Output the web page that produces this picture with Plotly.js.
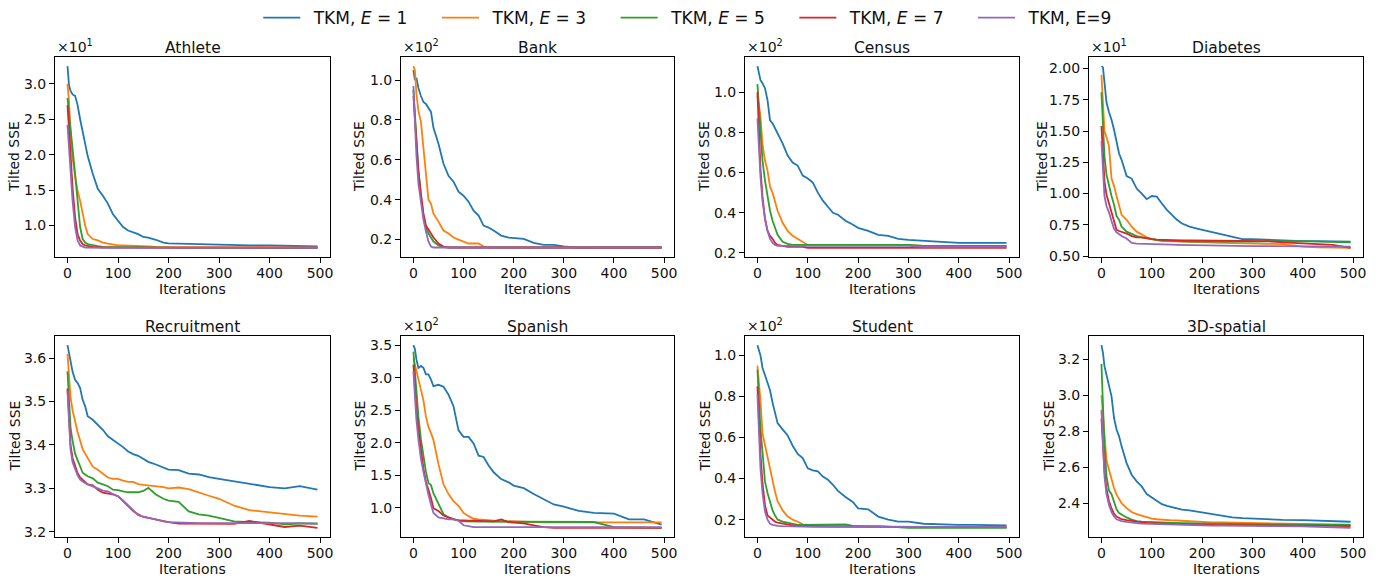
<!DOCTYPE html>
<html>
<head>
<meta charset="utf-8">
<script src="https://cdn.plot.ly/plotly-3.0.1.min.js"></script>
<style>html,body{margin:0;padding:0;background:#fff;}#chart{width:1382px;height:577px;}</style>
</head>
<body>
<div id="chart"></div>
<script>
// Iteration indices at which values were read
const ITER = [0,3,6,10,15,20,25,30,35,40,50,60,70,80,90,100,110,120,130,140,150,160,175,190,200,220,240,260,280,300,330,360,400,430,460,495];

const SERIES_NAMES = ['TKM, <i>E</i> = 1','TKM, <i>E</i> = 3','TKM, <i>E</i> = 5','TKM, <i>E</i> = 7','TKM, E=9'];
const COLORS = ['#1f77b4','#ff7f0e','#2ca02c','#d62728','#9467bd'];

const DATASETS = ['Athlete','Bank','Census','Diabetes','Recruitment','Spanish','Student','3D-spatial'];
const SCALE_EXP = [1,2,2,1,null,2,2,null];
const X_LABEL = 'Iterations';
const Y_LABEL = 'Tilted SSE';

// values in displayed units (multiplied by 10^SCALE_EXP); rows: E=1,3,5,7,9
const athlete = [
 [3.25,2.98,2.90,2.85,2.83,2.70,2.50,2.32,2.12,1.98,1.73,1.52,1.42,1.31,1.16,1.07,0.98,0.93,0.91,0.88,0.84,0.83,0.80,0.76,0.75,0.745,0.74,0.74,0.735,0.73,0.725,0.72,0.72,0.715,0.71,0.705],
 [3.00,2.75,2.30,1.95,1.70,1.49,1.35,1.16,1.00,0.88,0.81,0.79,0.76,0.745,0.73,0.72,0.72,0.715,0.715,0.71,0.71,0.705,0.70,0.70,0.70,0.70,0.695,0.695,0.695,0.695,0.69,0.69,0.69,0.69,0.69,0.69],
 [2.80,2.60,2.40,2.15,1.73,1.35,0.98,0.81,0.76,0.74,0.72,0.71,0.70,0.70,0.695,0.695,0.69,0.69,0.69,0.69,0.69,0.69,0.69,0.69,0.69,0.685,0.685,0.685,0.685,0.685,0.685,0.685,0.685,0.685,0.685,0.685],
 [2.70,2.30,1.90,1.54,1.12,0.88,0.79,0.74,0.72,0.71,0.70,0.695,0.69,0.69,0.69,0.69,0.69,0.69,0.69,0.69,0.69,0.69,0.69,0.69,0.69,0.69,0.69,0.69,0.69,0.69,0.69,0.69,0.69,0.69,0.69,0.69],
 [2.42,2.10,1.70,1.35,0.98,0.79,0.72,0.70,0.69,0.69,0.685,0.685,0.685,0.685,0.685,0.685,0.685,0.685,0.685,0.685,0.685,0.685,0.685,0.685,0.685,0.685,0.685,0.685,0.685,0.685,0.685,0.685,0.685,0.685,0.685,0.69]
];
const bank = [
 [1.05,1.00,1.01,0.96,0.92,0.89,0.88,0.86,0.84,0.76,0.68,0.58,0.52,0.49,0.44,0.42,0.39,0.345,0.32,0.27,0.26,0.245,0.22,0.21,0.208,0.203,0.183,0.173,0.173,0.165,0.158,0.16,0.16,0.16,0.16,0.16],
 [1.07,1.05,0.93,0.845,0.79,0.66,0.51,0.40,0.38,0.33,0.29,0.245,0.23,0.21,0.20,0.19,0.18,0.18,0.18,0.165,0.16,0.16,0.16,0.16,0.16,0.16,0.16,0.16,0.16,0.16,0.16,0.16,0.16,0.16,0.16,0.16],
 [0.95,0.82,0.68,0.55,0.42,0.32,0.26,0.23,0.21,0.19,0.17,0.162,0.16,0.16,0.16,0.16,0.16,0.16,0.16,0.16,0.16,0.16,0.16,0.16,0.16,0.16,0.16,0.16,0.16,0.16,0.16,0.16,0.16,0.16,0.16,0.16],
 [0.92,0.80,0.66,0.54,0.43,0.33,0.27,0.25,0.23,0.21,0.18,0.165,0.16,0.16,0.16,0.16,0.16,0.16,0.16,0.16,0.16,0.16,0.16,0.16,0.16,0.16,0.16,0.16,0.16,0.16,0.16,0.16,0.16,0.16,0.16,0.16],
 [0.97,0.80,0.62,0.48,0.38,0.30,0.24,0.19,0.165,0.16,0.16,0.16,0.16,0.16,0.16,0.16,0.16,0.16,0.16,0.16,0.16,0.16,0.16,0.16,0.16,0.16,0.16,0.16,0.16,0.16,0.16,0.16,0.16,0.16,0.16,0.16]
];
const census = [
 [1.13,1.09,1.06,1.045,1.02,0.96,0.86,0.845,0.82,0.80,0.745,0.685,0.65,0.635,0.585,0.57,0.55,0.50,0.46,0.43,0.40,0.39,0.36,0.34,0.325,0.31,0.29,0.285,0.27,0.265,0.26,0.255,0.25,0.25,0.25,0.25],
 [0.98,0.93,0.88,0.74,0.66,0.61,0.53,0.50,0.46,0.41,0.35,0.31,0.285,0.27,0.255,0.24,0.24,0.24,0.24,0.24,0.24,0.24,0.24,0.24,0.24,0.24,0.24,0.24,0.24,0.24,0.235,0.235,0.235,0.235,0.235,0.235],
 [1.04,0.92,0.80,0.66,0.56,0.48,0.41,0.36,0.325,0.29,0.255,0.245,0.24,0.24,0.24,0.24,0.24,0.24,0.24,0.24,0.24,0.24,0.24,0.24,0.24,0.24,0.24,0.24,0.24,0.24,0.235,0.235,0.235,0.235,0.235,0.235],
 [1.00,0.80,0.62,0.48,0.37,0.31,0.285,0.27,0.25,0.24,0.235,0.23,0.23,0.23,0.23,0.225,0.225,0.225,0.225,0.225,0.225,0.225,0.225,0.225,0.225,0.225,0.225,0.225,0.225,0.225,0.225,0.225,0.225,0.225,0.225,0.225],
 [0.87,0.72,0.58,0.46,0.37,0.31,0.27,0.25,0.24,0.235,0.235,0.235,0.235,0.235,0.235,0.235,0.235,0.235,0.235,0.235,0.235,0.235,0.235,0.235,0.235,0.235,0.235,0.235,0.235,0.235,0.23,0.23,0.23,0.23,0.23,0.23]
];
const diabetes = [
 [2.02,2.01,1.89,1.73,1.65,1.59,1.51,1.41,1.32,1.27,1.14,1.12,1.04,1.00,0.955,0.98,0.975,0.92,0.87,0.83,0.79,0.76,0.735,0.72,0.71,0.69,0.67,0.655,0.635,0.635,0.63,0.63,0.62,0.62,0.615,0.615],
 [1.95,1.75,1.50,1.45,1.38,1.12,1.06,0.98,0.90,0.83,0.79,0.735,0.695,0.67,0.65,0.635,0.628,0.62,0.62,0.62,0.618,0.615,0.613,0.61,0.61,0.608,0.605,0.603,0.60,0.60,0.598,0.595,0.575,0.57,0.565,0.565],
 [1.81,1.55,1.30,1.15,1.05,0.98,0.91,0.82,0.79,0.735,0.695,0.675,0.66,0.65,0.642,0.635,0.63,0.625,0.622,0.62,0.618,0.617,0.616,0.615,0.615,0.615,0.615,0.615,0.615,0.615,0.618,0.62,0.62,0.615,0.612,0.61],
 [1.54,1.30,1.10,0.99,0.92,0.84,0.76,0.71,0.70,0.695,0.68,0.66,0.65,0.65,0.64,0.635,0.632,0.63,0.628,0.627,0.627,0.626,0.625,0.625,0.625,0.625,0.625,0.625,0.625,0.625,0.62,0.61,0.60,0.595,0.59,0.565],
 [1.42,1.15,0.98,0.90,0.85,0.78,0.72,0.69,0.675,0.66,0.64,0.605,0.60,0.598,0.596,0.595,0.594,0.593,0.592,0.591,0.59,0.589,0.588,0.587,0.585,0.584,0.583,0.582,0.581,0.58,0.58,0.58,0.58,0.578,0.576,0.575]
];
const recruitment = [
 [3.63,3.611,3.589,3.569,3.55,3.543,3.531,3.504,3.489,3.466,3.458,3.447,3.435,3.42,3.412,3.403,3.395,3.385,3.379,3.375,3.368,3.361,3.355,3.347,3.343,3.342,3.334,3.332,3.326,3.322,3.316,3.31,3.303,3.30,3.305,3.297],
 [3.61,3.55,3.51,3.48,3.451,3.43,3.41,3.39,3.38,3.37,3.35,3.343,3.335,3.325,3.322,3.322,3.318,3.315,3.315,3.31,3.308,3.307,3.305,3.303,3.30,3.302,3.298,3.29,3.283,3.276,3.26,3.25,3.245,3.24,3.237,3.235],
 [3.57,3.50,3.44,3.41,3.38,3.365,3.35,3.336,3.332,3.328,3.323,3.313,3.309,3.305,3.297,3.296,3.293,3.291,3.291,3.291,3.294,3.301,3.286,3.276,3.272,3.269,3.247,3.24,3.237,3.232,3.224,3.222,3.221,3.217,3.219,3.219],
 [3.53,3.45,3.40,3.37,3.35,3.335,3.325,3.32,3.315,3.309,3.307,3.297,3.29,3.288,3.286,3.282,3.27,3.259,3.248,3.24,3.234,3.232,3.228,3.225,3.222,3.219,3.219,3.219,3.218,3.219,3.218,3.225,3.217,3.211,3.214,3.209],
 [3.525,3.44,3.39,3.36,3.345,3.33,3.32,3.315,3.312,3.309,3.305,3.30,3.295,3.293,3.287,3.282,3.272,3.262,3.25,3.238,3.235,3.232,3.228,3.224,3.222,3.221,3.22,3.22,3.22,3.22,3.22,3.22,3.221,3.221,3.22,3.218]
];
const spanish = [
 [3.50,3.44,3.28,3.15,3.18,3.15,3.05,3.05,2.97,2.87,2.89,2.86,2.74,2.56,2.19,2.09,2.09,1.99,1.80,1.78,1.65,1.545,1.44,1.39,1.34,1.30,1.21,1.13,1.05,1.015,0.95,0.92,0.91,0.82,0.82,0.74],
 [3.30,3.20,3.10,3.00,2.85,2.65,2.40,2.24,2.15,2.04,1.67,1.36,1.21,1.10,1.03,0.92,0.87,0.83,0.82,0.81,0.80,0.80,0.795,0.79,0.79,0.785,0.78,0.775,0.775,0.775,0.775,0.775,0.775,0.775,0.775,0.775],
 [3.40,3.10,2.75,2.40,2.05,1.80,1.55,1.38,1.35,1.22,1.05,0.90,0.85,0.82,0.80,0.79,0.785,0.785,0.785,0.785,0.785,0.785,0.78,0.78,0.78,0.78,0.78,0.78,0.78,0.78,0.78,0.78,0.70,0.70,0.695,0.69],
 [3.20,2.80,2.50,2.20,1.90,1.60,1.40,1.28,1.15,0.99,0.95,0.88,0.85,0.82,0.81,0.80,0.80,0.80,0.80,0.795,0.79,0.79,0.82,0.78,0.77,0.76,0.73,0.70,0.69,0.69,0.69,0.69,0.69,0.69,0.69,0.69],
 [3.10,2.70,2.35,2.05,1.75,1.55,1.35,1.20,1.05,0.92,0.85,0.83,0.82,0.82,0.80,0.73,0.71,0.70,0.70,0.70,0.70,0.70,0.70,0.70,0.70,0.70,0.70,0.695,0.69,0.69,0.69,0.69,0.70,0.70,0.70,0.70]
];
const student = [
 [1.05,1.03,1.00,0.94,0.90,0.86,0.83,0.77,0.72,0.67,0.64,0.61,0.56,0.52,0.50,0.45,0.44,0.435,0.41,0.395,0.37,0.34,0.31,0.285,0.255,0.25,0.215,0.20,0.19,0.19,0.18,0.177,0.175,0.175,0.172,0.172],
 [0.95,0.88,0.78,0.62,0.56,0.50,0.44,0.385,0.335,0.29,0.245,0.215,0.20,0.19,0.177,0.175,0.174,0.173,0.172,0.172,0.172,0.171,0.17,0.169,0.168,0.167,0.166,0.165,0.165,0.165,0.165,0.165,0.165,0.165,0.165,0.165],
 [0.93,0.78,0.64,0.53,0.385,0.33,0.28,0.245,0.22,0.20,0.19,0.185,0.177,0.175,0.175,0.175,0.175,0.175,0.175,0.175,0.175,0.175,0.177,0.17,0.17,0.169,0.168,0.166,0.162,0.16,0.16,0.16,0.16,0.16,0.16,0.16],
 [0.85,0.68,0.52,0.38,0.27,0.22,0.21,0.20,0.19,0.185,0.18,0.175,0.172,0.17,0.169,0.168,0.168,0.167,0.167,0.166,0.166,0.166,0.165,0.165,0.165,0.165,0.165,0.165,0.165,0.165,0.165,0.165,0.165,0.165,0.165,0.165],
 [0.81,0.62,0.45,0.33,0.24,0.20,0.18,0.175,0.172,0.17,0.168,0.167,0.166,0.165,0.165,0.165,0.165,0.165,0.165,0.165,0.165,0.165,0.165,0.165,0.165,0.165,0.165,0.165,0.165,0.165,0.165,0.165,0.165,0.165,0.165,0.165]
];
const spatial3d = [
 [3.28,3.237,3.163,3.116,3.07,2.995,2.874,2.81,2.772,2.716,2.623,2.558,2.521,2.493,2.45,2.432,2.413,2.394,2.385,2.378,2.367,2.363,2.359,2.352,2.344,2.335,2.326,2.32,2.316,2.313,2.31,2.307,2.305,2.301,2.298,2.296],
 [3.00,2.90,2.78,2.64,2.586,2.53,2.484,2.447,2.419,2.40,2.372,2.35,2.339,2.33,2.322,2.314,2.31,2.307,2.305,2.304,2.303,2.301,2.299,2.296,2.294,2.293,2.292,2.291,2.29,2.288,2.287,2.286,2.285,2.283,2.282,2.28],
 [3.175,2.95,2.72,2.55,2.47,2.45,2.40,2.365,2.345,2.335,2.32,2.308,2.30,2.297,2.295,2.293,2.292,2.291,2.291,2.29,2.29,2.289,2.288,2.288,2.287,2.286,2.285,2.284,2.284,2.283,2.282,2.281,2.28,2.279,2.278,2.278],
 [2.87,2.72,2.58,2.48,2.41,2.37,2.34,2.325,2.315,2.31,2.305,2.30,2.297,2.293,2.29,2.288,2.287,2.286,2.285,2.284,2.283,2.282,2.28,2.279,2.278,2.278,2.277,2.277,2.277,2.277,2.276,2.276,2.275,2.274,2.273,2.272],
 [2.92,2.70,2.55,2.45,2.39,2.35,2.325,2.31,2.305,2.30,2.295,2.29,2.288,2.286,2.285,2.283,2.282,2.281,2.28,2.279,2.278,2.277,2.276,2.276,2.275,2.275,2.274,2.274,2.273,2.273,2.272,2.272,2.27,2.268,2.265,2.262]
];

const ALL = [athlete, bank, census, diabetes, recruitment, spanish, student, spatial3d];
const X_TICKS = [0,100,200,300,400,500];
const Y_TICKS = [
 {t0:1.0, dt:0.5, fmt:'.1f'},
 {t0:0.2, dt:0.2, fmt:'.1f'},
 {t0:0.2, dt:0.2, fmt:'.1f'},
 {t0:0.5, dt:0.25, fmt:'.2f'},
 {t0:3.2, dt:0.1, fmt:'.1f'},
 {t0:1.0, dt:0.5, fmt:'.1f'},
 {t0:0.2, dt:0.2, fmt:'.1f'},
 {t0:2.4, dt:0.2, fmt:'.1f'}
];

// layout geometry (px)
const W = 1382, H = 577;
const COLS_PX = [[55,330],[401,674],[745,1019],[1089,1363]];
const ROWS_PX = [[57,257],[336,537]];
const YLABEL_SHIFT = [41,42,41,47,41,42,41,41];

function yRange(arrs){
  let mn = Infinity, mx = -Infinity;
  arrs.forEach(a => a.forEach(v => { if(v<mn) mn=v; if(v>mx) mx=v; }));
  const pad = (mx-mn)*0.05;
  return [mn-pad, mx+pad];
}
function xRange(){
  const mn = ITER[0], mx = ITER[ITER.length-1];
  const pad = (mx-mn)*0.05;
  return [mn-pad, mx+pad];
}

const traces = [];
const layout = {
  width: W, height: H,
  margin: {l:0, r:0, t:0, b:0},
  paper_bgcolor: '#fff', plot_bgcolor: '#fff',
  font: {family: 'DejaVu Sans, sans-serif', size: 14, color: '#000'},
  showlegend: true,
  legend: {orientation:'h', x:0.5103, xanchor:'center', y:1.0, yanchor:'top',
           font:{size:17, color:'#111'}, itemwidth:37, entrywidth:126.7, bgcolor:'rgba(0,0,0,0)'},
  annotations: []
};

for(let i=0;i<8;i++){
  const row = Math.floor(i/4), col = i%4;
  const sfx = i===0 ? '' : String(i+1);
  const data = ALL[i];
  for(let s=0;s<5;s++){
    traces.push({
      type:'scatter', mode:'lines', x: ITER, y: data[s],
      xaxis:'x'+sfx, yaxis:'y'+sfx,
      name: '\u2002' + SERIES_NAMES[s], legendgroup: 'g'+s, showlegend: i===0,
      line:{color: COLORS[s], width:1.8}, hoverinfo:'skip'
    });
  }
  const common = {
    showline:true, mirror:true, linecolor:'#000', linewidth:1,
    ticks:'outside', ticklen:5, tickwidth:1, tickcolor:'#000',
    showgrid:false, zeroline:false, tickfont:{size:14, color:'#111'}
  };
  layout['xaxis'+sfx] = Object.assign({}, common, {
    domain:[COLS_PX[col][0]/W, COLS_PX[col][1]/W],
    anchor:'y'+sfx, range:xRange(), tickvals:X_TICKS, ticklabelstandoff:-2
  });
  const yt = Y_TICKS[i];
  layout['yaxis'+sfx] = Object.assign({}, common, {
    domain:[1-ROWS_PX[row][1]/H, 1-ROWS_PX[row][0]/H],
    anchor:'x'+sfx, range:yRange(data), tick0:yt.t0, dtick:yt.dt, tickformat:yt.fmt
  });
  // subplot title
  layout.annotations.push({
    text: DATASETS[i], xref:'x'+sfx+' domain', yref:'y'+sfx+' domain',
    x:0.5, y:1, xanchor:'center', yanchor:'bottom', yshift:-2, showarrow:false,
    font:{size:15.5, color:'#111'}
  });
  // axis titles
  layout.annotations.push({
    text: X_LABEL, xref:'x'+sfx+' domain', yref:'y'+sfx+' domain',
    x:0.5, y:0, xanchor:'center', yanchor:'top', yshift:-23, showarrow:false,
    font:{size:14, color:'#111'}, borderpad:0
  });
  layout.annotations.push({
    text: Y_LABEL, xref:'x'+sfx+' domain', yref:'y'+sfx+' domain', textangle:-90,
    x:0, y:0.5, xanchor:'center', yanchor:'middle', xshift:-YLABEL_SHIFT[i], showarrow:false,
    font:{size:14, color:'#111'}, borderpad:0
  });
  if(SCALE_EXP[i] !== null){
    layout.annotations.push({
      text: '×10<sup>'+SCALE_EXP[i]+'</sup>', xref:'x'+sfx+' domain', yref:'y'+sfx+' domain',
      x:0, y:1, xanchor:'left', yanchor:'bottom', yshift:0, showarrow:false,
      font:{size:14, color:'#111'}
    });
  }
}

Plotly.newPlot('chart', traces, layout, {staticPlot:true, displayModeBar:false});
</script>
</body>
</html>
